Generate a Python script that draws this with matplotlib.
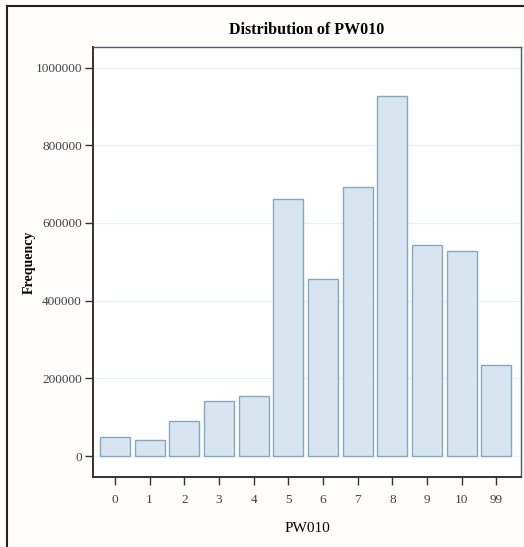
import matplotlib.pyplot as plt
from matplotlib.lines import Line2D

categories = ["0", "1", "2", "3", "4", "5", "6", "7", "8", "9", "10", "99"]
frequency = [48000, 40000, 90000, 141000, 154000, 661000, 455000,
             692000, 926000, 543000, 527000, 234000]
y_ticks = [0, 200000, 400000, 600000, 800000, 1000000]

plt.rcParams['font.family'] = ['Liberation Serif', 'DejaVu Serif']

fig = plt.figure(figsize=(5.24, 5.47), dpi=100, facecolor='#fffdfb')
ax = fig.add_axes([93 / 524, 70 / 547, 428 / 524, 430 / 547])
ax.set_facecolor('white')

x = list(range(len(categories)))
ax.bar(x, frequency, width=0.865, color='#d8e4f0', edgecolor='#86a8bf',
       linewidth=1.0, zorder=3)

ax.set_xlim(-0.634, 11.71)
ax.set_ylim(-54000, 1053000)
ax.set_xticks(x)
ax.set_xticklabels(categories)
ax.set_yticks(y_ticks)
ax.set_yticklabels([str(v) for v in y_ticks])
ax.yaxis.grid(True, color='#e9f1f8', linewidth=1.0, zorder=0)

for side in ['left', 'bottom']:
    ax.spines[side].set_color('#333333')
    ax.spines[side].set_linewidth(1.4)
for side in ['top', 'right']:
    ax.spines[side].set_color('#4a5a60')
    ax.spines[side].set_linewidth(1.0)

ax.tick_params(axis='both', direction='out', length=6, width=1.0,
               color='#333333', labelsize=9.5, labelcolor='#3a4248')
ax.tick_params(axis='x', pad=6)
ax.tick_params(axis='y', pad=2)

ax.set_title('Distribution of PW010', fontsize=11.5, fontweight='bold', pad=9)
ax.set_xlabel('PW010', fontsize=11, labelpad=12)
ax.set_ylabel('Frequency', fontsize=10, fontweight='bold', labelpad=0)

# outer frame, only left and top edges visible in the crop
fig.add_artist(Line2D([7 / 524, 7 / 524], [0, 1 - 6 / 547],
                      transform=fig.transFigure, color='#222222', linewidth=1.5))
fig.add_artist(Line2D([7 / 524, 1], [1 - 6 / 547, 1 - 6 / 547],
                      transform=fig.transFigure, color='#222222', linewidth=1.5))

fig.savefig('out.png', dpi=100, facecolor=fig.get_facecolor())
